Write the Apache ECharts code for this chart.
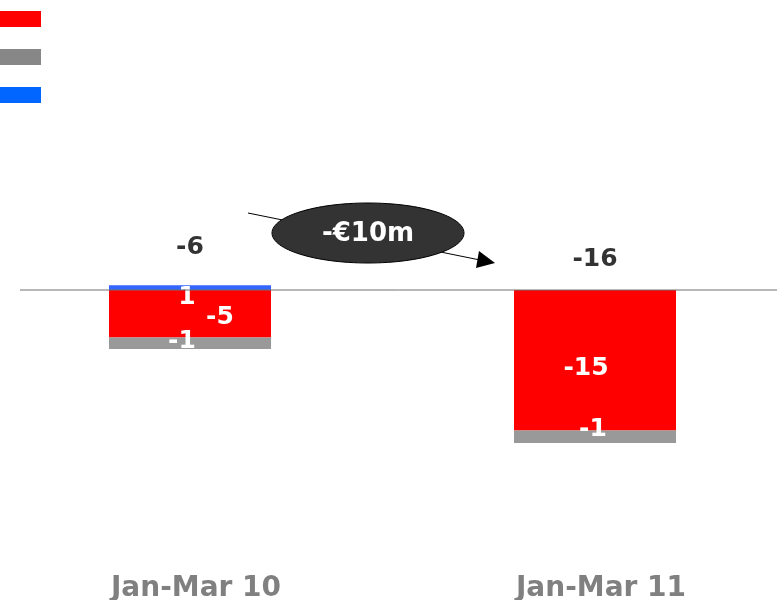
<!DOCTYPE html>
<html>
<head>
<meta charset="utf-8">
<script src="https://cdn.jsdelivr.net/npm/echarts@6/dist/echarts.min.js"></script>
<style>
html,body{margin:0;padding:0;background:#fff;}
#container{width:777px;height:600px;}
</style>
</head>
<body>
<div id="container"></div>
<script>
var categories = ['Jan-Mar 10', 'Jan-Mar 11'];
var redValues = [-5.0, -14.8];
var grayValues = [-1.2, -1.3];
var blueValues = [0.5, 0];
var totals = [-6, -16];
var changeText = '-€10m';

var FONT = 'DejaVu Sans';

var dom = document.getElementById('container');
var myChart = echarts.init(dom);

function inner(vals, offsets) {
	var out = [];
	for (var i = 0; i < vals.length; i++) {
		out.push({
			value: vals[i],
			label: { show: vals[i] !== 0, offset: offsets[i] }
		});
	}
	return out;
}

var innerLabel = {
	show: true,
	position: 'inside',
	color: '#fff',
	fontFamily: FONT,
	fontWeight: 'bold',
	fontSize: 25,
	formatter: function (p) { return Math.round(p.value); }
};

var totalData = [];
for (var i = 0; i < totals.length; i++) {
	totalData.push({
		value: [i, 0],
		label: { offset: i === 0 ? [0, -43] : [0, -31] }
	});
}

var option = {
	animation: false,
	legend: {
		orient: 'vertical',
		left: 0,
		top: 11,
		padding: 0,
		itemWidth: 41,
		itemHeight: 16,
		itemGap: 22,
		icon: 'rect',
		formatter: function () { return ''; },
		selectedMode: false,
		data: [
			{ name: 'Red', itemStyle: { color: '#ff0000' } },
			{ name: 'Gray', itemStyle: { color: '#878787' } },
			{ name: 'Blue', itemStyle: { color: '#0066ff' } }
		]
	},
	grid: { left: -12.5, right: -20.5, top: 195, bottom: 120, outerBoundsMode: 'none', containLabel: false },
	xAxis: {
		type: 'category',
		data: categories,
		axisLine: { show: false, onZero: false },
		axisTick: { show: false },
		axisLabel: {
			margin: 95,
			padding: [0, 0, 0, 12],
			color: '#808080',
			fontFamily: FONT,
			fontWeight: 'bold',
			fontSize: 28
		}
	},
	yAxis: {
		type: 'value',
		min: -20,
		max: 10,
		show: false
	},
	series: [
		{
			name: 'Red', type: 'bar', stack: 'total', barWidth: 162,
			itemStyle: { color: '#ff0000' },
			label: innerLabel,
			data: inner(redValues, [[30, 4], [-9, 8]])
		},
		{
			name: 'Gray', type: 'bar', stack: 'total', barWidth: 162,
			itemStyle: { color: '#999999' },
			label: innerLabel,
			data: inner(grayValues, [[-8, -2], [-2, -7]])
		},
		{
			name: 'Blue', type: 'bar', stack: 'total', barWidth: 162,
			itemStyle: { color: '#3366ff' },
			label: innerLabel,
			data: inner(blueValues, [[-3, 10], [0, 0]])
		},
		{
			name: 'Total', type: 'scatter', symbolSize: 0,
			itemStyle: { opacity: 1 },
			label: {
				show: true,
				position: 'inside',
				color: '#333',
				fontFamily: FONT,
				fontWeight: 'bold',
				fontSize: 25,
				formatter: function (p) { return totals[p.dataIndex]; }
			},
			data: totalData,
			z: 5
		}
	]
};
myChart.setOption(option);

// zero line and the change bubble
var y0 = myChart.convertToPixel({ yAxisIndex: 0 }, 0);
myChart.setOption({
	graphic: [
		{ type: 'line', shape: { x1: 20, y1: y0, x2: 777, y2: y0 }, style: { stroke: '#707070', lineWidth: 1 }, z: 10 },
		{ type: 'line', shape: { x1: 248, y1: 213, x2: 480, y2: 260 }, style: { stroke: '#000', lineWidth: 1 }, z: 20 },
		{ type: 'polygon', shape: { points: [[495, 263], [479, 251], [476, 268]] }, style: { fill: '#000' }, z: 20 },
		{ type: 'ellipse', shape: { cx: 368, cy: 233, rx: 96, ry: 30 }, style: { fill: '#333333', stroke: '#000', lineWidth: 1 }, z: 21 },
		{ type: 'text', x: 368, y: 234, style: { text: changeText, fill: '#fff', font: 'bold 26px "DejaVu Sans"', textAlign: 'center', textVerticalAlign: 'middle' }, z: 22 }
	]
});
</script>
</body>
</html>
